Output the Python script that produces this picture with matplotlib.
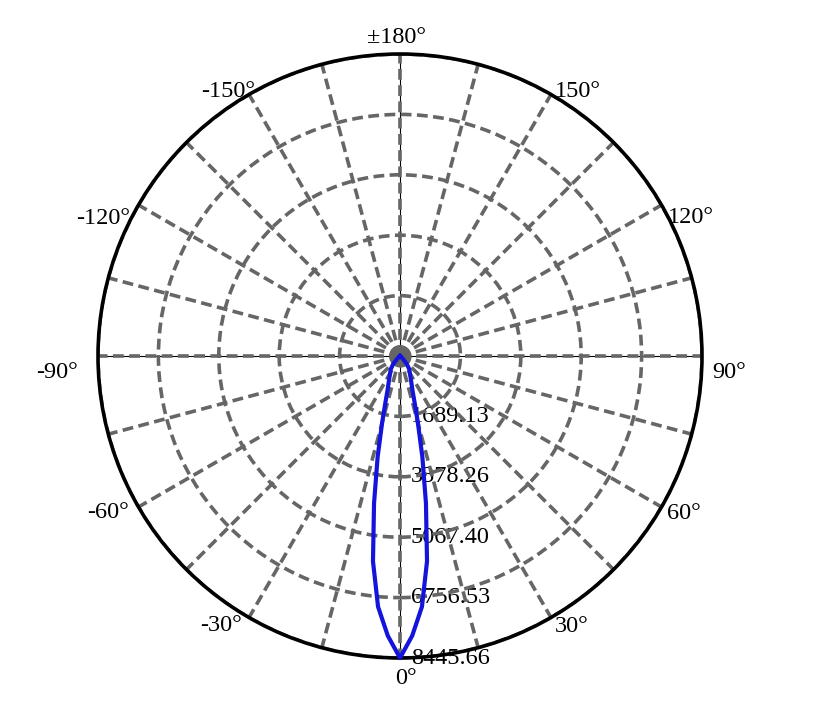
import numpy as np
import matplotlib
matplotlib.use("Agg")
import matplotlib.pyplot as plt
from matplotlib.transforms import ScaledTranslation

plt.rcParams['font.family'] = ['Liberation Serif', 'DejaVu Serif']

# luminous intensity (cd) vs angle, one half of the curve (symmetric)
half_angles = [0, 2.5, 5, 7.5, 10, 12.5, 15, 17.5, 20, 25, 30, 35, 40, 45, 50, 60, 90, 120, 150, 180]
half_values = [8445.66, 7830, 7040, 5790, 4180, 2890, 1930, 1350, 1020, 720, 550, 450,
               300, 120, 40, 0, 0, 0, 0, 0]

r_ticks = [1689.13, 3378.26, 5067.40, 6756.53, 8445.66]
r_labels = ["1689.13", "3378.26", "5067.40", "6756.53", "8445.66"]

theta_label_angles = [0, 30, 60, 90, 120, 150, 180, -150, -120, -90, -60, -30]
theta_labels = ["0°", "30°", "60°", "90°", "120°", "150°", "±180°",
                "-150°", "-120°", "-90°", "-60°", "-30°"]
# label centre offsets from the rim point, in pixels (x right, y down)
theta_label_offsets = [(6, 20), (21, 9), (22, 6), (27, 16), (29, 12), (27, -3), (-4, -17),
                       (-21, -3), (-35, 13), (-41, 16), (-30, 5), (-28, 8)]

angles = [-a for a in half_angles[::-1]] + half_angles[1:]
values = half_values[::-1] + half_values[1:]

fig = plt.figure(figsize=(8.2, 7.16), dpi=100)
ax = fig.add_axes([98 / 820, 58 / 716, 604 / 820, 604 / 716], projection="polar")
ax.set_theta_zero_location("S")
ax.set_theta_direction(1)
rmax = r_ticks[-1]
ax.set_rlim(0, rmax)

ax.set_xticks(np.deg2rad(np.arange(0, 360, 15)))
ax.set_xticklabels([])
ax.set_yticks(r_ticks)
ax.set_yticklabels([])
ax.grid(True, color="#666666", linewidth=2.6, linestyle=(0, (3.0, 1.5)))
ax.spines["polar"].set_linewidth(2.6)
ax.spines["polar"].set_color("black")

# thin solid axes under the dashed ones
for a in (0, 90):
    t = np.deg2rad([a, a + 180])
    ax.plot([t[0], t[0]], [0, rmax], color="black", lw=0.8, zorder=1)
    ax.plot([t[1], t[1]], [0, rmax], color="black", lw=0.8, zorder=1)

# grey hub where the spokes meet
ax.plot([0], [0], marker="o", markersize=15, color="#666666", zorder=3)

ax.plot(np.deg2rad(angles), values, color="#1414dc", lw=3.0, zorder=4, clip_on=False)

for s, r in zip(r_labels, r_ticks):
    off = ScaledTranslation(11 / 100, 0, fig.dpi_scale_trans)
    ax.text(0, r, s, transform=ax.transData + off, ha="left", va="center",
            fontsize=17.5, zorder=1, clip_on=False)

for a, s, (dx, dy) in zip(theta_label_angles, theta_labels, theta_label_offsets):
    off = ScaledTranslation(dx / 100, -dy / 100, fig.dpi_scale_trans)
    ax.text(np.deg2rad(a), rmax, s, transform=ax.transData + off, ha="center", va="center",
            fontsize=17.5, clip_on=False)

fig.savefig("out.png", dpi=100)
